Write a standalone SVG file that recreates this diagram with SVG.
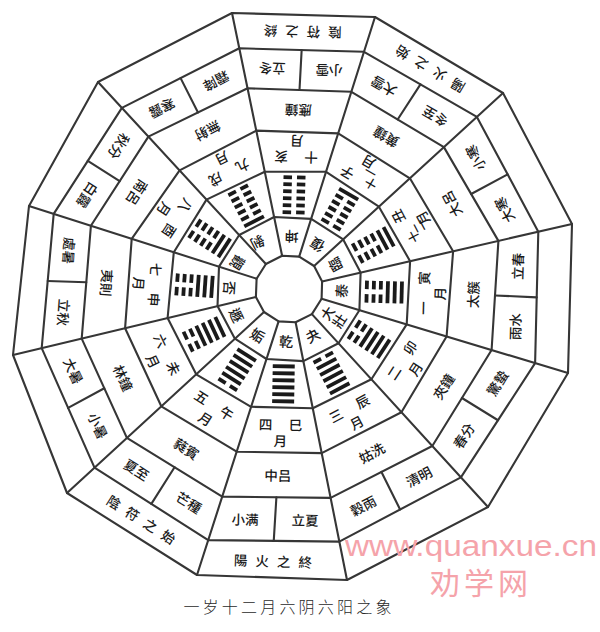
<svg xmlns="http://www.w3.org/2000/svg" xmlns:xlink="http://www.w3.org/1999/xlink" width="600" height="632" viewBox="0 0 600 632">
<style>
.ln{fill:none;stroke:#363636;stroke-width:2.1;stroke-linejoin:round;stroke-linecap:round}
text{font-family:"Noto Sans CJK TC","Noto Sans CJK SC",sans-serif;font-size:13.5px;font-weight:500;fill:#1a1a1a;text-anchor:middle;dominant-baseline:central}
.h{font-size:14px}
.s{font-size:12px}
.o{letter-spacing:8px}
.bar{fill:#1a1a1a}
.title{font-family:"Noto Sans CJK SC",sans-serif;font-size:16px;font-weight:300;fill:#2a2a2a;letter-spacing:3.2px}
.wm{font-family:"Liberation Sans",sans-serif;font-size:30px;font-weight:normal;fill:#f5a3aa;text-anchor:start;dominant-baseline:auto}
.wm2{font-family:"Noto Sans CJK SC",sans-serif;font-size:30px;font-weight:normal;fill:#f5a3aa;text-anchor:start;dominant-baseline:auto;letter-spacing:4px}
</style>
<defs>
<rect id="yang" class="bar" x="-11" y="-1.9" width="22" height="3.8"/>
<g id="yin" class="bar"><rect x="-11" y="-1.9" width="8.5" height="3.8"/><rect x="2.5" y="-1.9" width="8.5" height="3.8"/></g>
</defs>
<rect width="600" height="632" fill="#ffffff"/>

<g id="connectors">
<polygon class="ln" points="299.2,256.6 314.1,266.0 322.1,281.4 321.6,298.8 311.9,314.1 295.6,322.3 278.6,321.4 264.0,312.0 255.9,296.9 256.6,278.7 265.9,264.0 282.1,255.7"/>
<polygon class="ln" points="311.2,218.9 343.2,239.4 360.6,272.6 359.4,310.2 338.5,343.3 303.4,361.1 266.5,359.0 234.9,338.7 217.5,306.1 219.0,266.6 239.2,235.0 274.1,217.0"/>
<polygon class="ln" points="326.1,171.8 378.9,206.7 410.1,261.2 406.7,324.4 371.4,379.3 312.8,408.3 251.1,406.8 196.2,374.3 167.6,318.0 173.8,252.2 206.5,199.6 264.8,171.7"/>
<polygon class="ln" points="338.2,133.4 409.9,178.3 453.1,251.3 446.6,336.5 401.4,412.2 321.7,453.1 236.7,451.7 161.3,406.3 125.1,328.2 131.7,238.8 179.6,170.4 256.3,130.6"/>
<polygon class="ln" points="351.4,91.8 443.9,147.1 498.4,240.9 491.6,350.0 432.3,446.0 330.6,497.9 222.2,496.6 126.9,437.9 81.7,338.6 90.9,225.8 148.4,136.6 247.6,88.3"/>
<polygon class="ln" points="364.0,51.8 476.9,116.9 538.3,231.7 535.1,363.1 460.9,477.4 339.3,541.6 208.2,540.1 94.5,467.7 41.7,348.1 53.7,213.9 121.9,107.9 239.3,48.3"/>
<polygon class="ln" points="375,17 503,93 572,224 568,373 488,507 347,580 197,575 67,493 13,355 29,206 98,82 232,13"/>
<path class="ln" d="M299.2,256.6L375,17M314.1,266.0L503,93M322.1,281.4L572,224M321.6,298.8L568,373M311.9,314.1L488,507M295.6,322.3L347,580M278.6,321.4L197,575M264.0,312.0L67,493M255.9,296.9L13,355M256.6,278.7L29,206M265.9,264.0L98,82M282.1,255.7L232,13"/>
<path class="ln" d="M397.65,119.45L420.45,84.35M471.15,194.0L507.6,174.3M495.0,295.45L536.7,297.4M461.95,398.0L498.0,420.25M381.45,471.95L400.1,509.5M276.4,497.25L273.75,540.85M174.55,467.25L151.35,503.9M104.3,388.25L68.1,407.9M86.3,282.2L47.7,281.0M119.65,181.2L87.8,160.9M198.0,112.45L180.6,78.1M299.5,90.05L301.65,50.05"/>
</g>

<g id="sector-fu">
<text class="h" transform="translate(316.9,245.2) rotate(-150)">復</text>
<g transform="translate(339.85,209.2) rotate(-150)"><use href="#yang" y="17.5"/><use href="#yin" y="10.5"/><use href="#yin" y="3.5"/><use href="#yin" y="-3.5"/><use href="#yin" y="-10.5"/><use href="#yin" y="-17.5"/></g>
<g transform="translate(363.3,172.55) rotate(-150)"><text class="s" x="-12" y="-7">十</text><text class="s" x="-6" y="3">一</text><text x="14" y="-9">子</text><text x="1" y="11">月</text></g>
<text transform="translate(385.85,137.65) rotate(-150)">黄鐘</text>
<text transform="translate(383.4,86.85) rotate(-150)">大雪</text>
<text transform="translate(434.7,116.95) rotate(-150)">冬至</text>
<text class="o" transform="translate(429.7,69.7) rotate(-149.3)" x="4">陽火之始</text>
</g>

<g id="sector-lin">
<text class="h" transform="translate(335,264.85) rotate(-118)">臨</text>
<g transform="translate(373.2,244.95) rotate(-118)"><use href="#yang" y="17.5"/><use href="#yang" y="10.5"/><use href="#yin" y="3.5"/><use href="#yin" y="-3.5"/><use href="#yin" y="-10.5"/><use href="#yin" y="-17.5"/></g>
<g transform="translate(413,224.4) rotate(-118)"><text class="s" x="-11" y="-6">十</text><text class="s" x="-5" y="3">二</text><text x="14" y="-10">丑</text><text x="1" y="11">月</text></g>
<text transform="translate(451.3,204.4) rotate(-118)">大呂</text>
<text transform="translate(474.9,158.1) rotate(-118)">小寒</text>
<text transform="translate(503.9,210.2) rotate(-118)">大寒</text>
</g>

<g id="sector-tai">
<text class="h" transform="translate(340.9,290.75) rotate(-88.5)">泰</text>
<g transform="translate(384.2,292.1) rotate(-88.5)"><use href="#yang" y="17.5"/><use href="#yang" y="10.5"/><use href="#yang" y="3.5"/><use href="#yin" y="-3.5"/><use href="#yin" y="-10.5"/><use href="#yin" y="-17.5"/></g>
<g transform="translate(429.1,293.35) rotate(-88.5)"><text x="-15" y="-6">一</text><text x="15" y="-6">寅</text><text x="0" y="10">月</text></g>
<text transform="translate(472.4,294.7) rotate(-88.5)">太簇</text>
<text transform="translate(517.1,266.4) rotate(-88.5)">立春</text>
<text transform="translate(514.6,326.5) rotate(-88.5)">雨水</text>
</g>

<g id="sector-dazhuang">
<g transform="translate(332.85,316.6) rotate(-57)"><text y="-7">大</text><text y="7">壯</text></g>
<g transform="translate(369,339.3) rotate(-57)"><use href="#yang" y="17.5"/><use href="#yang" y="10.5"/><use href="#yang" y="3.5"/><use href="#yang" y="-3.5"/><use href="#yin" y="-10.5"/><use href="#yin" y="-17.5"/></g>
<g transform="translate(406.5,363.1) rotate(-57)"><text x="-15" y="-6">二</text><text x="15" y="-6">卯</text><text x="0" y="10">月</text></g>
<text transform="translate(443,386.2) rotate(-57)">夾鐘</text>
<text transform="translate(496.7,382.8) rotate(-57)">驚蟄</text>
<text transform="translate(463.3,435.4) rotate(-57)">春分</text>
</g>

<g id="sector-guai">
<text class="h" transform="translate(312.35,335.2) rotate(-28)">夬</text>
<g transform="translate(331.5,373) rotate(-28)"><use href="#yang" y="17.5"/><use href="#yang" y="10.5"/><use href="#yang" y="3.5"/><use href="#yang" y="-3.5"/><use href="#yang" y="-10.5"/><use href="#yin" y="-17.5"/></g>
<g transform="translate(351.8,413.2) rotate(-28)"><text x="-15" y="-6">三</text><text x="15" y="-6">辰</text><text x="0" y="10">月</text></g>
<text transform="translate(371.5,452.3) rotate(-28)">姑洗</text>
<text transform="translate(418.7,476.2) rotate(-28)">清明</text>
<text transform="translate(362.9,505.2) rotate(-28)">穀雨</text>
</g>

<g id="sector-qian">
<text class="h" transform="translate(286,340.95) rotate(1)">乾</text>
<g transform="translate(283.45,383.8) rotate(1)"><use href="#yang" y="17.5"/><use href="#yang" y="10.5"/><use href="#yang" y="3.5"/><use href="#yang" y="-3.5"/><use href="#yang" y="-10.5"/><use href="#yang" y="-17.5"/></g>
<g transform="translate(280.6,430) rotate(1)"><text x="-15" y="-6">四</text><text x="15" y="-6">巳</text><text x="0" y="10">月</text></g>
<text transform="translate(277.8,474.8) rotate(1)">中吕</text>
<text transform="translate(305,519.4) rotate(1)">立夏</text>
<text transform="translate(245.1,518.7) rotate(1)">小满</text>
<text class="o" transform="translate(272.9,560.5) rotate(1.9)" x="4">陽火之終</text>
</g>

<g id="sector-gou">
<text class="h" transform="translate(258,335) rotate(32.5)">姤</text>
<g transform="translate(237.2,369.7) rotate(32.5)"><use href="#yin" y="17.5"/><use href="#yang" y="10.5"/><use href="#yang" y="3.5"/><use href="#yang" y="-3.5"/><use href="#yang" y="-10.5"/><use href="#yang" y="-17.5"/></g>
<g transform="translate(211.3,409.8) rotate(32.5)"><text x="-15" y="-6">五</text><text x="15" y="-6">午</text><text x="0" y="10">月</text></g>
<text transform="translate(186.8,448.1) rotate(32.5)">蕤賓</text>
<text transform="translate(189.1,502) rotate(32.5)">芒種</text>
<text transform="translate(136.8,469.2) rotate(32.5)">夏至</text>
<text class="o" transform="translate(141.7,519) rotate(32.2)" x="4">陰符之始</text>
</g>

<g id="sector-dun">
<text class="h" transform="translate(237,315) rotate(65)">遯</text>
<g transform="translate(204.05,334.3) rotate(65)"><use href="#yin" y="17.5"/><use href="#yin" y="10.5"/><use href="#yang" y="3.5"/><use href="#yang" y="-3.5"/><use href="#yang" y="-10.5"/><use href="#yang" y="-17.5"/></g>
<g transform="translate(162.55,356.7) rotate(65)"><text x="-15" y="-6">六</text><text x="15" y="-6">未</text><text x="0" y="10">月</text></g>
<text transform="translate(123.75,377.75) rotate(65)">林鐘</text>
<text transform="translate(98.45,425.4) rotate(65)">小暑</text>
<text transform="translate(73.95,370.7) rotate(65)">大暑</text>
</g>

<g id="sector-pi">
<text class="h" transform="translate(230,288) rotate(94)">否</text>
<g transform="translate(194.5,285.7) rotate(94)"><use href="#yin" y="17.5"/><use href="#yin" y="10.5"/><use href="#yin" y="3.5"/><use href="#yang" y="-3.5"/><use href="#yang" y="-10.5"/><use href="#yang" y="-17.5"/></g>
<g transform="translate(149.55,284.3) rotate(94)"><text x="-15" y="-6">七</text><text x="15" y="-6">申</text><text x="0" y="10">月</text></g>
<text transform="translate(107.35,282.85) rotate(94)">夷則</text>
<text transform="translate(64.35,312.5) rotate(94)">立秋</text>
<text transform="translate(69.65,250.7) rotate(94)">處暑</text>
</g>

<g id="sector-guan">
<text class="h" transform="translate(238,263) rotate(123)">觀</text>
<g transform="translate(209.6,238.35) rotate(123)"><use href="#yin" y="17.5"/><use href="#yin" y="10.5"/><use href="#yin" y="3.5"/><use href="#yin" y="-3.5"/><use href="#yang" y="-10.5"/><use href="#yang" y="-17.5"/></g>
<g transform="translate(172.9,215.25) rotate(123)"><text x="-15" y="-6">八</text><text x="15" y="-6">酉</text><text x="0" y="10">月</text></g>
<text transform="translate(137.65,192.9) rotate(123)">南呂</text>
<text transform="translate(88,195.45) rotate(123)">白露</text>
<text transform="translate(119.4,146.65) rotate(123)">秋分</text>
</g>

<g id="sector-bo">
<text class="h" transform="translate(258,243) rotate(153)">剝</text>
<g transform="translate(246.15,205.8) rotate(153)"><use href="#yin" y="17.5"/><use href="#yin" y="10.5"/><use href="#yin" y="3.5"/><use href="#yin" y="-3.5"/><use href="#yin" y="-10.5"/><use href="#yang" y="-17.5"/></g>
<g transform="translate(226.8,168.1) rotate(153)"><text x="-15" y="-6">九</text><text x="15" y="-6">戌</text><text x="0" y="10">月</text></g>
<text transform="translate(208,131.5) rotate(153)">無射</text>
<text transform="translate(162.2,108.8) rotate(153)">寒露</text>
<text transform="translate(216.4,81.8) rotate(153)">霜降</text>
</g>

<g id="sector-kun">
<text class="h" transform="translate(291.65,237.05) rotate(181.5)">坤</text>
<g transform="translate(294.05,194.85) rotate(181.5)"><use href="#yin" y="17.5"/><use href="#yin" y="10.5"/><use href="#yin" y="3.5"/><use href="#yin" y="-3.5"/><use href="#yin" y="-10.5"/><use href="#yin" y="-17.5"/></g>
<g transform="translate(296.35,151.9) rotate(181.5)"><text x="-15" y="-6">十</text><text x="15" y="-6">亥</text><text x="0" y="10">月</text></g>
<text transform="translate(298.4,111) rotate(181.5)">應鐘</text>
<text transform="translate(272,69.2) rotate(181.5)">立冬</text>
<text transform="translate(329.1,70.9) rotate(181.5)">小雪</text>
<text class="o" transform="translate(302.6,32.5) rotate(181.6)" x="4">陰符之終</text>
</g>

<g id="caption">
<text class="title" x="289" y="606">一岁十二月六阴六阳之象</text>
</g>
<g id="watermark">
<text class="wm" x="345" y="556" textLength="252" lengthAdjust="spacingAndGlyphs">www.quanxue.cn</text>
<text class="wm2" x="430" y="594">劝学网</text>
</g>
</svg>
